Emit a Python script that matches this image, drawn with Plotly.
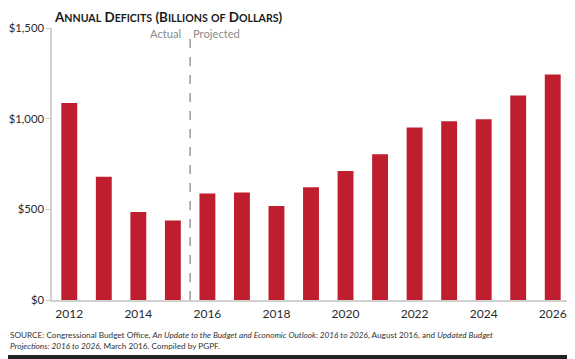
import plotly.graph_objects as go

years = list(range(2012, 2027))
deficits = [1087, 680, 485, 438, 587, 593, 519, 622, 712, 804, 951, 986, 997, 1128, 1243]
y_ticks = [0, 500, 1000, 1500]
y_tick_labels = ["$0", "$500", "$1,000", "$1,500"]
x_ticks = [2012, 2014, 2016, 2018, 2020, 2022, 2024, 2026]

RED = "#BE1E2D"
FONT = "Lato"
PH = 272.0  # plot height in px
PW = 518.0  # plot width in px

fig = go.Figure()
fig.add_trace(go.Bar(x=years, y=deficits, marker_color=RED, marker_line_width=0,
                     width=0.46, hoverinfo="x+y"))

def sc(word):
    return word[0] + "<span style='font-size:10.6px'>" + word[1:].upper() + "</span>"

title = " ".join([sc("Annual"), sc("Deficits"), "(" + sc("Billions"),
                  "<span style='font-size:10.6px'>OF</span>", sc("Dollars") + ")"])

fig.update_layout(
    width=567, height=351,
    margin=dict(l=44, r=5, t=20, b=59, pad=0, autoexpand=False),
    paper_bgcolor="white", plot_bgcolor="white",
    showlegend=False,
    font=dict(family=FONT, color="#333333", size=12),
    xaxis=dict(range=[2011.5, 2026.5], tickvals=x_ticks, showgrid=False, automargin=False,
               showline=True, linecolor="#d0d0d0", linewidth=1.5, ticks="",
               tickfont=dict(size=12, color="#2a2a2a"), zeroline=False,
               ticklabelstandoff=2),
    yaxis=dict(range=[0, 1500], tickvals=y_ticks, ticktext=y_tick_labels, automargin=False,
               showgrid=False, showline=True, linecolor="#d0d0d0", linewidth=1.5,
               ticks="outside", ticklen=4, tickcolor="#c8c8c8",
               tickfont=dict(size=11.3, color="#2a2a2a"), zeroline=False,
               ticklabelstandoff=0),
    shapes=[
        dict(type="line", xref="x", yref="paper", x0=2015.5, x1=2015.5, y0=0, y1=0.99,
             line=dict(color="#999999", width=1.5, dash="dash")),
        dict(type="rect", xref="paper", yref="paper", x0=-0.1, x1=1.05,
             y0=-0.25, y1=-55 / PH, line_width=0, fillcolor="#222222"),
    ],
    annotations=[
        dict(text="<b>" + title + "</b>", xref="paper", yref="paper", x=0.0, y=1.0,
             yshift=11, xanchor="left", yanchor="middle", showarrow=False,
             font=dict(family=FONT, size=13.4, color="#1a1a1a")),
        dict(text="Actual", xref="x", yref="y", x=2015.5, y=1468, xshift=-7,
             xanchor="right", yanchor="middle", showarrow=False,
             font=dict(family=FONT, size=11.2, color="#8a8a8a")),
        dict(text="Projected", xref="x", yref="y", x=2015.5, y=1468, xshift=1,
             xanchor="left", yanchor="middle", showarrow=False,
             font=dict(family=FONT, size=11.2, color="#8a8a8a")),
        dict(text="SOURCE: Congressional Budget Office, <i>An Update to the Budget and Economic Outlook: 2016 to 2026</i>, August 2016, and <i>Updated Budget</i><br><i>Projections: 2016 to 2026</i>, March 2016. Compiled by PGPF.",
             xref="paper", yref="paper", x=-44 / PW, y=-28 / PH, xanchor="left", yanchor="top",
             align="left", showarrow=False,
             font=dict(family=FONT, size=8.2, color="#333333")),
    ],
)

fig.write_html("out.html")
